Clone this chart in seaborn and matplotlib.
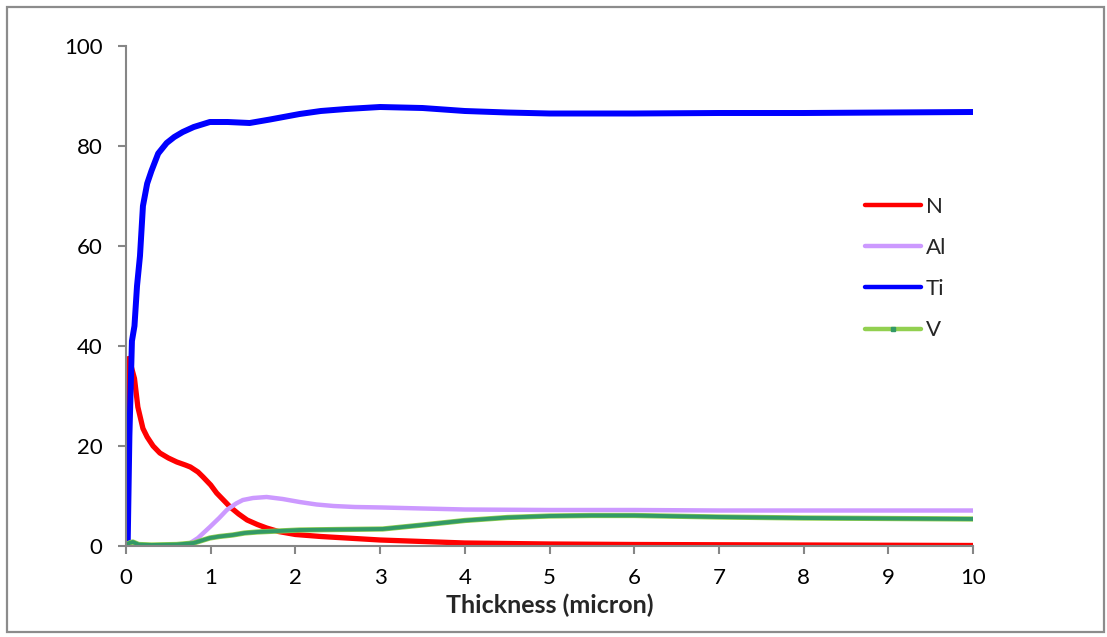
import numpy as np
import pandas as pd
import matplotlib
matplotlib.use("Agg")
import matplotlib.pyplot as plt
import seaborn as sns
from matplotlib.lines import Line2D
from matplotlib.patches import Rectangle

# ---- data ----
n_x = [0.0, 0.01, 0.03, 0.06, 0.1, 0.14, 0.2, 0.25, 0.32, 0.4, 0.5, 0.6, 0.7, 0.76, 0.85, 0.91,
       1.0, 1.07, 1.15, 1.23, 1.33, 1.43, 1.55, 1.66, 1.8, 2.0, 2.3, 2.6, 3.0, 3.5, 4.0, 5.0, 6.0, 7.0, 8.0, 9.0, 10.0]
n_y = [0.0, 20.0, 37.5, 36.0, 33.5, 27.8, 23.5, 21.8, 20.0, 18.6, 17.6, 16.8, 16.2, 15.8, 14.8, 13.8,
       12.2, 10.6, 9.2, 7.8, 6.4, 5.2, 4.3, 3.6, 2.9, 2.3, 1.9, 1.6, 1.2, 0.9, 0.6, 0.4, 0.3, 0.25, 0.2, 0.15, 0.1]

al_x = [0.0, 0.3, 0.6, 0.75, 0.85, 0.99, 1.1, 1.19, 1.3, 1.38, 1.5, 1.66, 1.85, 2.05, 2.25, 2.45, 2.7,
        3.03, 3.5, 4.0, 5.0, 6.0, 7.0, 8.0, 9.0, 10.0]
al_y = [0.0, 0.0, 0.1, 0.5, 1.6, 3.8, 5.6, 7.2, 8.5, 9.2, 9.6, 9.8, 9.4, 8.8, 8.3, 8.0, 7.8,
        7.7, 7.5, 7.3, 7.2, 7.2, 7.1, 7.1, 7.1, 7.1]

ti_x = [0.0, 0.02, 0.04, 0.07, 0.1, 0.13, 0.165, 0.2, 0.25, 0.3, 0.38, 0.48, 0.57, 0.67, 0.8, 0.99,
        1.2, 1.46, 1.7, 2.05, 2.3, 2.6, 3.0, 3.5, 4.0, 4.5, 5.0, 6.0, 7.0, 8.0, 9.0, 10.0]
ti_y = [0.0, 0.5, 22.0, 41.0, 44.0, 52.0, 58.0, 68.0, 72.5, 75.0, 78.5, 80.6, 81.8, 82.8, 83.8, 84.8,
        84.8, 84.6, 85.3, 86.4, 87.0, 87.4, 87.8, 87.6, 87.0, 86.7, 86.5, 86.5, 86.6, 86.6, 86.7, 86.8]

v_x = [0.0, 0.04, 0.08, 0.15, 0.3, 0.6, 0.8, 0.99, 1.1, 1.26, 1.4, 1.55, 1.8, 2.05, 2.5, 3.03, 3.5, 4.0,
       4.5, 5.0, 5.5, 6.0, 7.0, 8.0, 9.0, 10.0]
v_y = [0.3, 0.6, 0.8, 0.3, 0.2, 0.3, 0.6, 1.6, 1.9, 2.2, 2.6, 2.8, 3.0, 3.2, 3.3, 3.4, 4.2, 5.1,
       5.7, 6.0, 6.1, 6.1, 5.8, 5.6, 5.5, 5.4]

x_ticks = [0, 1, 2, 3, 4, 5, 6, 7, 8, 9, 10]
y_ticks = [0, 20, 40, 60, 80, 100]
x_label = "Thickness (micron)"
series_names = ["N", "Al", "Ti", "V"]

sns.set_theme(style="white")
plt.rcParams['font.family'] = ['Lato', 'DejaVu Sans']

W, H = 1107, 637
fig = plt.figure(figsize=(W / 100, H / 100), dpi=100)
ax = fig.add_axes([126 / W, 1 - 546 / H, (973 - 126) / W, (546 - 46) / H])

sns.lineplot(x=n_x, y=n_y, ax=ax, color="#FF0000", lw=3.8, estimator=None, sort=False)
sns.lineplot(x=al_x, y=al_y, ax=ax, color="#CC99FF", lw=3.2, estimator=None, sort=False)
sns.lineplot(x=ti_x, y=ti_y, ax=ax, color="#0000FF", lw=4.3, estimator=None, sort=False)
sns.lineplot(x=v_x, y=v_y, ax=ax, color="#92D050", lw=3.8, estimator=None, sort=False)
sns.lineplot(x=v_x, y=v_y, ax=ax, color="#339966", lw=2.8, estimator=None, sort=False)

ax.set_xlim(0, 10)
ax.set_ylim(0, 100)
ax.set_xticks(x_ticks)
ax.set_yticks(y_ticks)
ax.set_xticklabels([str(t) for t in x_ticks])
ax.set_yticklabels([str(t) for t in y_ticks])
for s in ["top", "right"]:
    ax.spines[s].set_visible(False)
for s in ["left", "bottom"]:
    ax.spines[s].set_color("#868686")
    ax.spines[s].set_linewidth(1.5)
ax.tick_params(axis="both", which="major", direction="out", length=6, width=1.5,
               color="#868686", labelsize=16, labelcolor="black", bottom=True, left=True)
ax.tick_params(axis="x", pad=10)
ax.tick_params(axis="y", pad=11)
ax.set_xlabel(x_label, fontsize=18, fontweight="bold", labelpad=4)
ax.set_ylabel("")
ax.grid(False)

handles = [
    Line2D([0], [0], color="#FF0000", lw=3.2, solid_capstyle="round"),
    Line2D([0], [0], color="#CC99FF", lw=3.2, solid_capstyle="round"),
    Line2D([0], [0], color="#0000FF", lw=3.2, solid_capstyle="round"),
    Line2D([0], [0], color="#92D050", lw=3.2, solid_capstyle="round", marker="s", markersize=3,
           markerfacecolor="#339966", markeredgecolor="#339966"),
]
ax.legend(handles, series_names, loc="upper left",
          bbox_to_anchor=((865 - 126) / 847, (546 - 197) / 500), frameon=False,
          fontsize=16, handlelength=2.5, handletextpad=0.25, labelspacing=0.95,
          borderpad=0, borderaxespad=0)

fig.patches.append(Rectangle((7 / W, 1 - 632 / H), (1104 - 7) / W, (632 - 7) / H,
                             transform=fig.transFigure, fill=False,
                             edgecolor="#8C8C8C", lw=1.6))

fig.savefig("out.png", dpi=100, facecolor="white")
